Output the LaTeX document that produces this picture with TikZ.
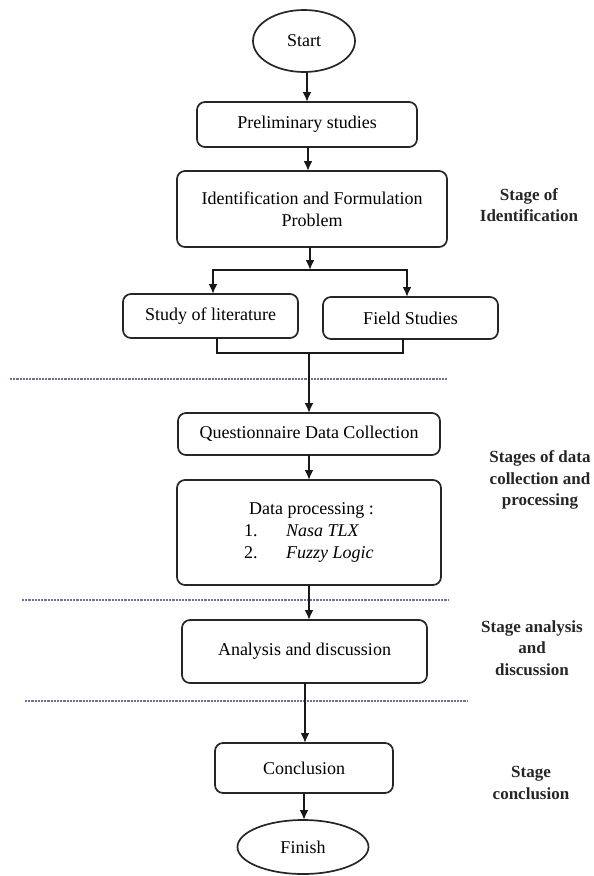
\documentclass[tikz,border=0pt]{standalone}
\usepackage{fontspec}
\setmainfont{Liberation Serif}
\usetikzlibrary{shapes.geometric,arrows.meta}
\begin{document}
\begin{tikzpicture}[x=1pt,y=-1pt,
  every node/.style={inner sep=0pt, outer sep=0pt},
  box/.style={draw=black!85, line width=1.7pt, rounded corners=8pt, align=center,
    font=\fontsize{18}{22}\selectfont},
  term/.style={draw=black!85, line width=1.7pt, ellipse, align=center,
    font=\fontsize{18}{22}\selectfont},
  arr/.style={line width=2pt, draw=black!90, -{Latex[length=10pt,width=9pt]}},
  ln/.style={line width=2pt, draw=black!90},
  sep/.style={line width=1.4pt, draw={rgb,255:red,120;green,110;blue,150}, dash pattern=on 2.2pt off 1pt},
  lab/.style={align=center, font=\fontsize{17}{21.5}\selectfont\bfseries, text=black!85}
]
\useasboundingbox (0,0) rectangle (594,876);

\node[term, minimum width=102pt, minimum height=62pt] (start) at (304,41) {Start};
\node[box, minimum width=220pt, minimum height=45pt] (prelim) at (307,124.5) {Preliminary studies};
\node[box, minimum width=270pt, minimum height=76pt] (ident) at (312,209) {Identification and Formulation\\Problem};
\node[box, minimum width=175pt, minimum height=44pt] (lit) at (210.5,316) {Study of literature};
\node[box, minimum width=175pt, minimum height=42pt] (field) at (410.5,318) {Field Studies};
\node[box, minimum width=262pt, minimum height=42pt] (quest) at (309,434) {Questionnaire Data Collection};
\node[box, minimum width=264pt, minimum height=105pt, align=left] (proc) at (309,532.5)
  {\hspace*{5pt}Data processing :\\\makebox[42pt][l]{1.}\textit{Nasa TLX}\\\makebox[42pt][l]{2.}\textit{Fuzzy Logic}};
\node[box, minimum width=245pt, minimum height=63pt] (anal) at (304.5,651.5) {Analysis and discussion};
\node[box, minimum width=178pt, minimum height=50pt] (concl) at (304,768) {Conclusion};
\node[term, minimum width=131pt, minimum height=54pt] (finish) at (303,847) {Finish};

% stage labels
\node[lab] (l1) at (529,205) {Stage of\\Identification};
\node[lab] (l2) at (540,480) {Stages of data\\collection and\\processing};
\node[lab] (l3) at (532,648) {Stage analysis\\and\\discussion};
\node[lab] (l4) at (531,783) {Stage\\conclusion};

% separators
\coordinate (s1a) at (10,379); \coordinate (s1b) at (448,379);
\coordinate (s2a) at (22,600); \coordinate (s2b) at (448,600);
\coordinate (s3a) at (25,701); \coordinate (s3b) at (467,701);
\draw[sep] (s1a) -- (s1b);
\draw[sep] (s2a) -- (s2b);
\draw[sep] (s3a) -- (s3b);

% connectors
\coordinate (split) at (310,270);
\coordinate (merge) at (309,353);
\draw[arr] (start.south -| prelim.north) -- (prelim.north);
\draw[arr] ([xshift=1pt]prelim.south) -- ([xshift=1pt]prelim.south |- ident.north);
\draw[arr] (ident.south -| split) -- (split);
\draw[arr] (split) -| ([xshift=2.5pt]lit.north);
\draw[arr] (split) -| ([xshift=-3.5pt]field.north);
\draw[ln] ([xshift=6.5pt]lit.south) |- (merge) -| ([xshift=-7.5pt]field.south);
\draw[arr] (merge) -- (merge |- quest.north);
\draw[arr] (quest.south) -- (proc.north);
\draw[arr] (proc.south) -- (proc.south |- anal.north);
\draw[arr] ([xshift=0.5pt]anal.south) -- ([xshift=0.5pt]anal.south |- concl.north);
\draw[arr] (concl.south) -- (concl.south |- finish.north);
\end{tikzpicture}
\end{document}
